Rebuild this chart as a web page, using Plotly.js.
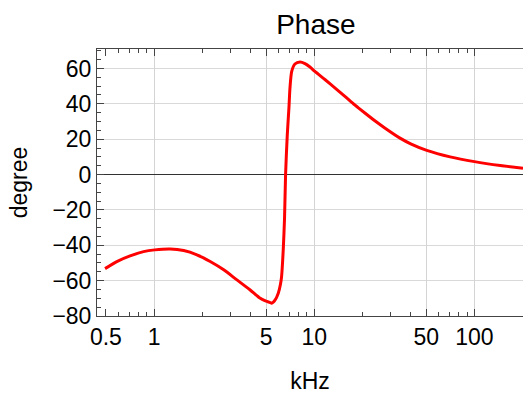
<!DOCTYPE html>
<html>
<head>
<meta charset="utf-8">
<script src="https://cdn.plot.ly/plotly-3.0.1.min.js"></script>
<style>html,body{margin:0;padding:0;background:#fff;}#chart{width:523px;height:396px;}</style>
</head>
<body>
<div id="chart"></div>
<script>
// Frequency (kHz) and phase (degree)
const freqKHz = [0.494, 0.585, 0.708, 0.859, 1.01, 1.26, 1.53, 1.85, 2.24, 2.72, 3.29, 3.98, 4.6, 5.0, 5.31, 5.42, 5.7, 5.96, 6.15, 6.25, 6.40, 6.52, 6.62, 6.78, 6.95, 7.05, 7.23, 7.57, 8.15, 8.75, 9.40, 10.1, 11.7, 13.5, 15.6, 17.9, 20.7, 23.9, 27.7, 34.3, 40, 50.4, 70.5, 100, 145, 201];
const phaseDeg = [-53.2, -49.2, -46.0, -43.6, -42.6, -42.1, -43.0, -45.4, -49.2, -53.9, -59.6, -65.3, -70.0, -71.6, -72.4, -72.8, -70.9, -67.1, -62.0, -57.7, -42.6, -25.0, 0, 22.0, 38.0, 48.9, 58.3, 62.5, 63.6, 62.7, 60.8, 58.3, 53.6, 48.9, 44.1, 39.4, 34.8, 30.4, 26.2, 20.6, 17.4, 13.7, 10.0, 7.3, 5.1, 3.6];
const xTickVals = [0.5, 1, 5, 10, 50, 100];
const xTickText = ['0.5', '1', '5', '10', '50', '100'];
const xGridVals = [1, 5, 10, 50, 100];
const xMinorVals = [0.6, 0.7, 0.8, 0.9, 2, 3, 4, 6, 7, 8, 9, 20, 30, 40, 60, 70, 80, 90, 200];
const yTickVals = [-80, -60, -40, -20, 0, 20, 40, 60];

const font = {family: 'Liberation Sans, Arial, sans-serif', color: '#000'};
const frameColor = '#444';

const trace = {
  x: freqKHz, y: phaseDeg, type: 'scatter', mode: 'lines',
  line: {color: '#ff0000', width: 3, shape: 'spline', smoothing: 0.7},
  hoverinfo: 'skip', showlegend: false
};
const gridTrace = {x: [1, 100], y: [0, 0], xaxis: 'x2', yaxis: 'y', mode: 'none', hoverinfo: 'skip', showlegend: false};

const xr = [Math.log10(0.44), Math.log10(201)];
const layout = {
  width: 523, height: 396,
  margin: {l: 97, r: 0, t: 49, b: 80},
  paper_bgcolor: '#fff', plot_bgcolor: '#fff',
  font: Object.assign({size: 23}, font),
  title: {text: 'Phase', font: Object.assign({size: 28}, font), x: 0.604, xref: 'container', xanchor: 'center', y: 0.939, yref: 'container', yanchor: 'middle'},
  xaxis: {
    type: 'log', range: xr,
    tickvals: xTickVals, ticktext: xTickText,
    ticks: 'inside', ticklen: 7, tickcolor: frameColor, tickwidth: 1,
    showgrid: false, showline: true, linecolor: frameColor, linewidth: 1, mirror: 'ticks',
    minor: {tickvals: xMinorVals, ticks: 'inside', ticklen: 4, tickcolor: frameColor, showgrid: false},
    tickfont: Object.assign({size: 23}, font),
    title: {text: 'kHz', font: Object.assign({size: 23}, font), standoff: 24},
    zeroline: false
  },
  xaxis2: {
    type: 'log', range: xr, overlaying: 'x',
    tickvals: xGridVals, showticklabels: false, ticks: '',
    showgrid: true, gridcolor: '#d4d4d4', gridwidth: 1, showline: false, zeroline: false
  },
  yaxis: {
    range: [-80, 71],
    tickvals: yTickVals,
    ticks: 'inside', ticklen: 7, tickcolor: frameColor, tickwidth: 1,
    showgrid: true, gridcolor: '#d9d9d9', gridwidth: 1,
    showline: true, linecolor: frameColor, linewidth: 1, mirror: false,
    minor: {dtick: 5, ticks: 'inside', ticklen: 4, tickcolor: frameColor, showgrid: false},
    zeroline: true, zerolinecolor: '#333', zerolinewidth: 1,
    tickfont: Object.assign({size: 23}, font),
    title: {text: 'degree', font: Object.assign({size: 23}, font), standoff: 18}
  }
};
Plotly.newPlot('chart', [gridTrace, trace], layout, {staticPlot: true, displayModeBar: false});
</script>
</body>
</html>
